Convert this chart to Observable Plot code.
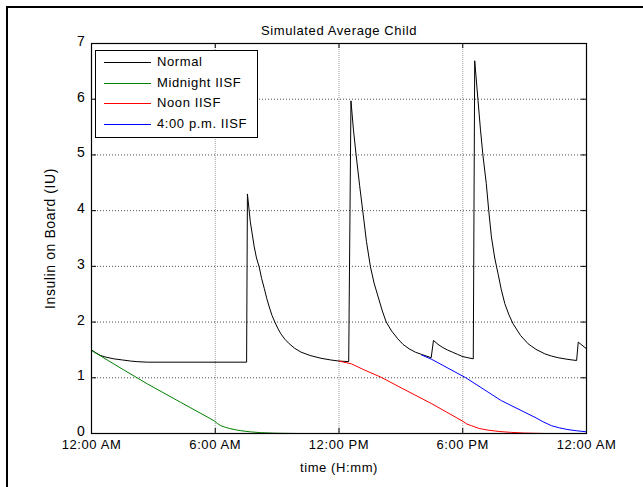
<!DOCTYPE html>
<html><head><meta charset="utf-8">
<script src="https://cdn.jsdelivr.net/npm/d3@7"></script>
<script src="https://cdn.jsdelivr.net/npm/@observablehq/plot@0.6"></script>
<style>
body{margin:0;background:#fff;}
#wrap{position:relative;width:643px;height:487px;overflow:hidden;background:#fff;}
#border{position:absolute;left:6px;top:6px;width:700px;height:600px;border-left:2px solid #000;border-top:2px solid #000;pointer-events:none;}
#legend{position:absolute;left:95px;top:50px;width:161px;height:86px;border:1px solid #000;background:#fff;font:13px "Liberation Sans",Arial,sans-serif;letter-spacing:0.6px;color:#000;}
.row{position:absolute;left:0;height:20px;white-space:nowrap;}
.sw{position:absolute;left:8px;top:10px;width:47px;height:1px;}
.tx{position:absolute;left:61px;top:2px;line-height:16px;}
</style></head>
<body><div id="wrap"><div id="border"></div></div>
<script>
const title = "Simulated Average Child";
const xLabel = "time (H:mm)";
const yLabel = "Insulin on Board (IU)";
const xTicks = [0, 6, 12, 18, 24];
const xTickLabels = ["12:00 AM", "6:00 AM", "12:00 PM", "6:00 PM", "12:00 AM"];
const yTicks = [0, 1, 2, 3, 4, 5, 6, 7];
const xGrid = [6, 12, 18];
const yGrid = [1, 2, 3, 4, 5, 6];
const seriesNames = ["Normal", "Midnight IISF", "Noon IISF", "4:00 p.m. IISF"];
const seriesColors = ["#000000", "#008000", "#ff0000", "#0000ff"];

// [hour, insulin on board]
const normal = [[0,1.50],[0.2,1.45],[0.44,1.40],[0.7,1.37],[1.08,1.34],[1.5,1.32],[1.9,1.30],[2.2,1.29],[2.7,1.28],[7.52,1.28],[7.56,4.30],[7.70,3.80],[7.89,3.35],[8.0,3.15],[8.13,2.99],[8.25,2.78],[8.38,2.60],[8.5,2.42],[8.62,2.27],[8.75,2.12],[8.89,2.00],[9.03,1.89],[9.18,1.79],[9.38,1.69],[9.59,1.61],[9.85,1.53],[10.16,1.46],[10.6,1.40],[11.13,1.35],[11.6,1.32],[12.0,1.30],[12.47,1.29],[12.58,5.97],[12.7,5.45],[12.83,5.00],[13.0,4.45],[13.15,4.00],[13.33,3.45],[13.52,3.00],[13.7,2.70],[13.9,2.45],[14.1,2.20],[14.29,2.00],[14.55,1.84],[14.85,1.70],[15.1,1.60],[15.4,1.52],[15.7,1.46],[16.0,1.42],[16.47,1.36],[16.58,1.67],[16.8,1.60],[17.0,1.55],[17.25,1.50],[17.5,1.46],[17.75,1.42],[18.0,1.38],[18.25,1.36],[18.51,1.34],[18.58,6.69],[18.74,5.98],[18.86,5.45],[18.98,4.99],[19.14,4.49],[19.26,4.00],[19.39,3.53],[19.55,3.15],[19.71,2.87],[19.87,2.58],[20.04,2.33],[20.24,2.13],[20.44,1.97],[20.8,1.76],[21.17,1.61],[21.55,1.51],[21.98,1.43],[22.3,1.39],[22.63,1.36],[23.1,1.33],[23.52,1.31],[23.6,1.64],[24.0,1.52]];
const midnight = [[0,1.49],[1.57,1.14],[2.71,0.89],[4.32,0.56],[5.94,0.23],[6.1,0.18],[6.27,0.14],[6.5,0.11],[6.7,0.09],[7.0,0.065],[7.24,0.05],[7.7,0.03],[8.21,0.015],[9.0,0.005],[10.0,0]];
const noon = [[12.0,1.30],[12.6,1.25],[13.23,1.14],[14.04,1.01],[15.01,0.82],[16.47,0.54],[18.0,0.22],[18.2,0.17],[18.42,0.14],[18.8,0.09],[19.23,0.06],[19.8,0.035],[20.36,0.02],[21.0,0.008],[22.03,0]];
const pm4 = [[16.0,1.41],[16.5,1.33],[17.0,1.23],[18.15,1.00],[19.87,0.59],[21.5,0.29],[21.9,0.21],[22.3,0.14],[22.7,0.10],[23.1,0.07],[23.5,0.05],[24.0,0.03]];

const seriesData = [normal, midnight, noon, pm4];
const rows = seriesData.flatMap((s, k) => s.map(([t, v]) => ({t, v, name: seriesNames[k]})));

const W = 643, H = 487, mL = 91, mR = 57, mT = 43, mB = 54;
const fw = W - mL - mR, fh = H - mT - mB;

const chart = Plot.plot({
  width: W, height: H,
  marginLeft: mL, marginRight: mR, marginTop: mT, marginBottom: mB,
  style: 'font-family:"Liberation Sans",Arial,sans-serif;font-size:13px;letter-spacing:0.6px;background:transparent;color:#000;overflow:visible;',
  x: {domain: [0, 24]},
  y: {domain: [0, 7]},
  color: {domain: seriesNames, range: seriesColors},
  marks: [
    Plot.ruleX(xGrid, {x: d => d, stroke: "#9a9a9a", strokeDasharray: "1,1"}),
    Plot.ruleY(yGrid, {y: d => d, stroke: "#000", strokeOpacity: 0.7, strokeDasharray: "1,2"}),
    Plot.line(rows, {x: "t", y: "v", z: "name", stroke: "name", strokeWidth: 1}),
    Plot.frame({stroke: "#000", strokeWidth: 1.2}),
    Plot.tickY(yTicks, {y: d => d, insetRight: fw - 5, stroke: "#000"}),
    Plot.tickY(yTicks, {y: d => d, insetLeft: fw - 5, stroke: "#000"}),
    Plot.tickX(xTicks, {x: d => d, insetTop: fh - 5, stroke: "#000"}),
    Plot.tickX(xTicks, {x: d => d, insetBottom: fh - 5, stroke: "#000"}),
    Plot.axisX(xTicks, {tickSize: 0, tickPadding: 6, tickFormat: d => xTickLabels[xTicks.indexOf(d)], label: xLabel, labelAnchor: "center", labelArrow: "none", labelOffset: 38}),
    Plot.axisY(yTicks, {tickSize: 0, tickPadding: 6, dy: -2, tickFormat: d => String(d), fontSize: 14, label: yLabel, labelAnchor: "center", labelArrow: "none", labelOffset: 46}),
    Plot.text([title], {text: d => d, frameAnchor: "top", dy: -18, fontSize: 13})
  ]
});
const wrap = document.getElementById("wrap");
chart.style.position = "absolute";
chart.style.left = "0px";
chart.style.top = "0px";
wrap.insertBefore(chart, wrap.firstChild);

const legend = document.createElement("div");
legend.id = "legend";
seriesNames.forEach((n, i) => {
  const r = document.createElement("div");
  r.className = "row";
  r.style.top = Math.round(1 + i * 20.7) + "px";
  const sw = document.createElement("div");
  sw.className = "sw";
  sw.style.backgroundColor = seriesColors[i];
  const tx = document.createElement("div");
  tx.className = "tx";
  tx.textContent = n;
  r.appendChild(sw); r.appendChild(tx);
  legend.appendChild(r);
});
wrap.appendChild(legend);
</script>
</body></html>
